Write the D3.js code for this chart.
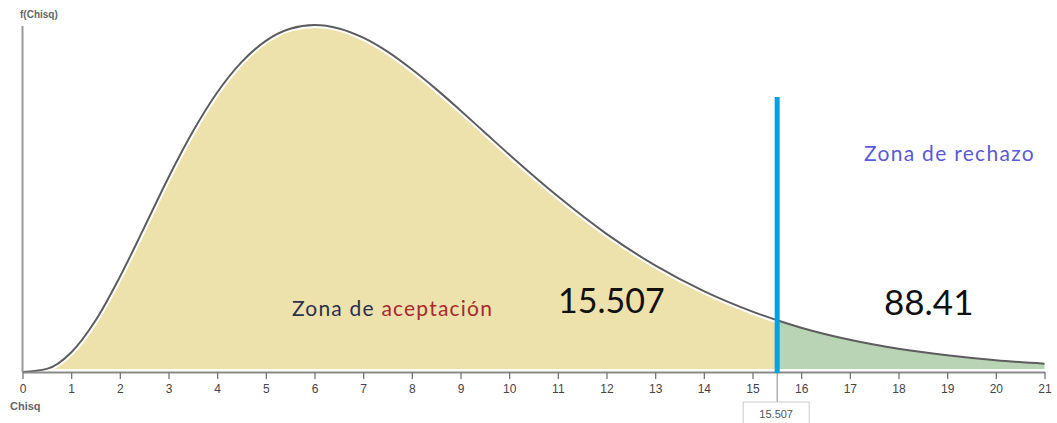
<!DOCTYPE html>
<html>
<head>
<meta charset="utf-8">
<script src="https://cdn.jsdelivr.net/npm/d3@7"></script>
<style>
body{margin:0;background:#fff}
svg{display:block}
</style>
</head>
<body>
<svg id="chart" width="1057" height="423"></svg>
<script>
// chi-square density (8 df)
var xs = [0,0.5,1,1.5,2,2.5,3,3.5,4,4.5,5,5.5,6,6.5,7,7.5,8,8.5,9,9.5,10,11,12,13,14,15,15.507,16,17,18,19,20,21]
var dens = [0,0.001,0.0063,0.0166,0.0307,0.0466,0.0628,0.0776,0.0902,0.1000,0.1069,0.1108,0.1120,0.1109,0.1079,0.1034,0.0977,0.0913,0.0844,0.0773,0.0702,0.0567,0.0446,0.0344,0.0261,0.0195,0.0167,0.0143,0.0104,0.0075,0.0054,0.0038,0.0027]
var ticks = d3.range(0,22)
var critical = 15.507
var leftLabel = "15.507"
var rightLabel = "88.41"

var pts = xs.map(function(d,i){return {x:d,y:dens[i]}})

var svg = d3.select("#chart")
var x = d3.scaleLinear().domain([0,21]).range([22.5,1044.5])
var y = d3.scaleLinear().domain([0,0.112]).range([372,25])

var defs = svg.append("defs")
defs.append("clipPath").attr("id","clipL").append("rect")
    .attr("x",0).attr("y",0).attr("width",x(critical)).attr("height",423)
defs.append("clipPath").attr("id","clipR").append("rect")
    .attr("x",x(critical)).attr("y",0).attr("width",1057).attr("height",423)

var area = d3.area()
    .x(function(d){return x(d.x)})
    .y0(y(0)-3)
    .y1(function(d){return Math.min(y(d.y),y(0)-3)})
    .curve(d3.curveMonotoneX)
var line = d3.line()
    .x(function(d){return x(d.x)})
    .y(function(d){return y(d.y)})
    .curve(d3.curveMonotoneX)

svg.append("path").datum(pts).attr("d",area)
    .attr("fill","#ede1ac").attr("clip-path","url(#clipL)")
svg.append("path").datum(pts).attr("d",area)
    .attr("fill","#b9d3b5").attr("clip-path","url(#clipR)")

// white halo then grey curve
svg.append("path").datum(pts).attr("d",line)
    .attr("fill","none").attr("stroke","#fff").attr("stroke-width",6).attr("clip-path","url(#clipL)")
svg.append("path").datum(pts).attr("d",line)
    .attr("fill","none").attr("stroke","#5d5d5d").attr("stroke-width",2)

// y axis
svg.append("line").attr("x1",x(0)).attr("x2",x(0)).attr("y1",26).attr("y2",y(0))
    .attr("stroke","#9a9a9a").attr("stroke-width",2)
svg.append("text").text("f(Chisq)").attr("x",20).attr("y",18)
    .attr("font-family","Liberation Sans, Arial").attr("font-size",10).attr("font-weight","bold").attr("fill","#666")

// x axis
var xAxis = svg.append("g").attr("transform","translate(0,"+y(0)+")")
    .call(d3.axisBottom(x).tickValues(ticks).tickSize(7).tickSizeOuter(0).tickFormat(d3.format("d")))
xAxis.select(".domain").attr("stroke","#8a8a8a").attr("stroke-width",2)
xAxis.selectAll(".tick line").attr("stroke","#777").attr("stroke-width",1.3)
xAxis.selectAll(".tick text").attr("fill","#444").attr("font-size",12).attr("dy","0.95em")
    .attr("font-family","Liberation Sans, Arial")
svg.append("text").text("Chisq").attr("x",10).attr("y",410)
    .attr("font-family","Liberation Sans, Arial").attr("font-size",11).attr("font-weight","bold").attr("fill","#666")

// critical value marker
svg.append("line").attr("x1",x(critical)).attr("x2",x(critical)).attr("y1",y(0)).attr("y2",402)
    .attr("stroke","#888").attr("stroke-width",1)
svg.append("rect").attr("x",x(critical)-34).attr("y",402).attr("width",66).attr("height",24)
    .attr("fill","#fff").attr("stroke","#ccc")
svg.append("text").text(critical).attr("x",x(critical)-1).attr("y",418).attr("text-anchor","middle")
    .attr("font-family","Liberation Sans, Arial").attr("font-size",11).attr("fill","#555")

svg.append("line").attr("x1",x(critical)).attr("x2",x(critical)).attr("y1",97).attr("y2",y(0)+1)
    .attr("stroke","#00a2e2").attr("stroke-width",5)

// labels
var t = svg.append("text").attr("x",292).attr("y",316)
    .attr("font-family","Lato, Open Sans, sans-serif").attr("font-size",21).attr("letter-spacing",1.2)
t.append("tspan").text("Zona de ").attr("fill","#2b3150")
t.append("tspan").text("aceptación").attr("fill","#a52a2e")

svg.append("text").text("Zona de rechazo").attr("x",864).attr("y",161)
    .attr("font-family","Lato, Open Sans, sans-serif").attr("font-size",21).attr("letter-spacing",1.3)
    .attr("fill","#5b5ad8")

svg.append("text").text(leftLabel).attr("x",558).attr("y",313)
    .attr("font-family","Lato, Open Sans, sans-serif").attr("font-size",34).attr("fill","#111")
svg.append("text").text(rightLabel).attr("x",884).attr("y",315)
    .attr("font-family","Lato, Open Sans, sans-serif").attr("font-size",35).attr("fill","#111")
</script>
</body>
</html>
